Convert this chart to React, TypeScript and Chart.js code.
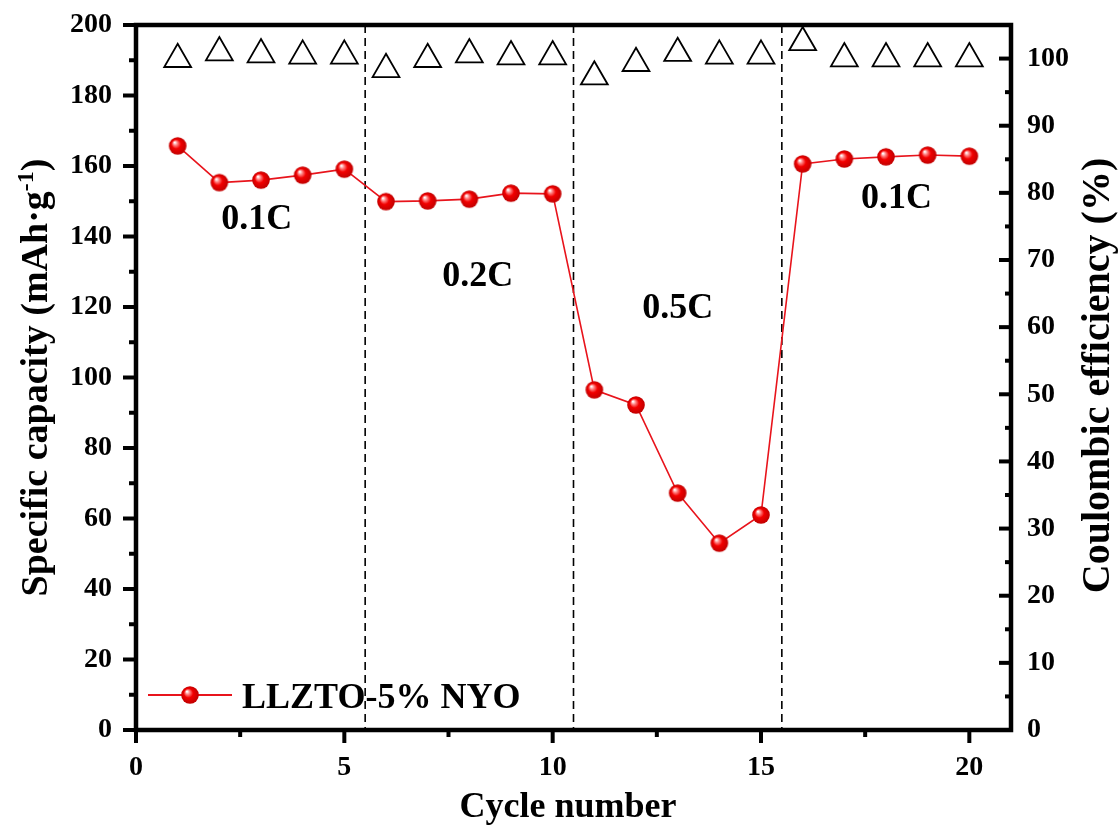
import React, { useEffect, useRef } from "react";
import { Chart, registerables } from "chart.js";

Chart.register(...registerables);

// ---- data ----
const cycles = [1, 2, 3, 4, 5, 6, 7, 8, 9, 10, 11, 12, 13, 14, 15, 16, 17, 18, 19, 20];
const capacity = [165.7, 155.3, 156.0, 157.4, 159.1, 149.9, 150.1, 150.6, 152.3, 152.1, 96.5, 92.2, 67.2, 53.0, 61.0, 160.6, 162.0, 162.6, 163.1, 162.8];
const efficiency = [99.9, 100.9, 100.6, 100.4, 100.4, 98.4, 99.9, 100.6, 100.3, 100.3, 97.3, 99.3, 100.8, 100.4, 100.4, 102.4, 100.0, 100.0, 100.0, 100.0];
const rateBoundaries = [5.5, 10.5, 15.5];
const rateLabels = ["0.1C", "0.2C", "0.5C", "0.1C"];
const rateLabelX = [2.9, 8.2, 13.0, 18.25];
const rateLabelY = [142, 126, 117, 148];
const seriesName = "LLZTO-5% NYO";
const xTitle = "Cycle number";
const yTitle = "Specific capacity (mAh·g";
const yTitleSup = "-1";
const y1Title = "Coulombic efficiency (%)";

const SERIF = '"Liberation Serif", "Times New Roman", serif';

function makeSphere(r: number): HTMLCanvasElement {
  const s = Math.ceil(r * 2 + 2);
  const c = document.createElement("canvas");
  c.width = s;
  c.height = s;
  const ctx = c.getContext("2d")!;
  const cx = s / 2;
  const cy = s / 2;
  const g = ctx.createRadialGradient(cx - r * 0.35, cy - r * 0.4, r * 0.05, cx, cy, r);
  g.addColorStop(0, "#ffffff");
  g.addColorStop(0.22, "#ff8080");
  g.addColorStop(0.5, "#f20000");
  g.addColorStop(1, "#c00000");
  ctx.fillStyle = g;
  ctx.beginPath();
  ctx.arc(cx, cy, r, 0, Math.PI * 2);
  ctx.fill();
  return c;
}

function fixBox(size: number, horizontal: boolean) {
  return (s: any) => {
    if (horizontal) s.height = size;
    else s.width = size;
    s.paddingTop = 0;
    s.paddingBottom = 0;
    s.paddingLeft = 0;
    s.paddingRight = 0;
  };
}

export default function App() {
  const ref = useRef<HTMLCanvasElement | null>(null);

  useEffect(() => {
    const canvas = ref.current;
    if (!canvas) return;
    const sphere = makeSphere(8.8);

    const framePlugin = {
      id: "frame",
      beforeDatasetsDraw(chart: any) {
        const { ctx, chartArea } = chart;
        const xs = chart.scales.x;
        ctx.save();
        ctx.strokeStyle = "#000";
        ctx.lineWidth = 1.6;
        ctx.setLineDash([8, 5]);
        rateBoundaries.forEach((b) => {
          const px = xs.getPixelForValue(b);
          ctx.beginPath();
          ctx.moveTo(px, chartArea.top);
          ctx.lineTo(px, chartArea.bottom);
          ctx.stroke();
        });
        ctx.restore();
      },
      afterDraw(chart: any) {
        const { ctx, chartArea } = chart;
        const { left, right, top, bottom } = chartArea;
        const xs = chart.scales.x;
        const ys = chart.scales.y;
        const y1s = chart.scales.y1;
        ctx.save();
        ctx.strokeStyle = "#000";
        ctx.lineWidth = 4;
        ctx.setLineDash([]);
        ctx.lineCap = "butt";
        for (let v = 0; v <= 200; v += 10) {
          const py = ys.getPixelForValue(v);
          const len = v % 20 === 0 ? 13 : 7;
          ctx.beginPath();
          ctx.moveTo(left - len, py);
          ctx.lineTo(left, py);
          ctx.stroke();
        }
        for (let v = 0; v <= 20; v += 2.5) {
          const px = xs.getPixelForValue(v);
          const len = v % 5 === 0 ? 13 : 7;
          ctx.beginPath();
          ctx.moveTo(px, bottom);
          ctx.lineTo(px, bottom + len);
          ctx.stroke();
        }
        for (let v = 0; v <= 100; v += 5) {
          const py = y1s.getPixelForValue(v);
          const len = v % 10 === 0 ? 12 : 6;
          ctx.beginPath();
          ctx.moveTo(right - len, py);
          ctx.lineTo(right, py);
          ctx.stroke();
        }
        ctx.lineWidth = 4.5;
        ctx.strokeRect(left, top, right - left, bottom - top);

        ctx.fillStyle = "#000";
        ctx.font = `bold 36px ${SERIF}`;
        ctx.textAlign = "center";
        ctx.textBaseline = "alphabetic";
        rateLabels.forEach((t, i) => {
          ctx.fillText(t, xs.getPixelForValue(rateLabelX[i]), ys.getPixelForValue(rateLabelY[i]));
        });

        ctx.strokeStyle = "#e8141c";
        ctx.lineWidth = 2;
        ctx.beginPath();
        ctx.moveTo(148, 695);
        ctx.lineTo(232, 695);
        ctx.stroke();
        ctx.drawImage(sphere, 190 - sphere.width / 2, 695 - sphere.height / 2);
        ctx.textAlign = "left";
        ctx.fillText(seriesName, 242, 708);

        ctx.textAlign = "center";
        ctx.font = `bold 36px ${SERIF}`;
        ctx.fillText(xTitle, 568, 817);

        ctx.save();
        ctx.translate(47, (top + bottom) / 2);
        ctx.rotate(-Math.PI / 2);
        ctx.textAlign = "left";
        const mainFont = `bold 38px ${SERIF}`;
        const supFont = `bold 24px ${SERIF}`;
        ctx.font = mainFont;
        const w1 = ctx.measureText(yTitle).width;
        const w3 = ctx.measureText(")").width;
        ctx.font = supFont;
        const w2 = ctx.measureText(yTitleSup).width;
        let x0 = -(w1 + w2 + w3) / 2;
        ctx.font = mainFont;
        ctx.fillText(yTitle, x0, 0);
        x0 += w1;
        ctx.font = supFont;
        ctx.fillText(yTitleSup, x0, -14);
        x0 += w2;
        ctx.font = mainFont;
        ctx.fillText(")", x0, 0);
        ctx.restore();

        ctx.save();
        ctx.translate(1109, (top + bottom) / 2 - 2);
        ctx.rotate(-Math.PI / 2);
        ctx.textAlign = "center";
        ctx.font = `bold 40px ${SERIF}`;
        ctx.fillText(y1Title, 0, 0);
        ctx.restore();

        ctx.restore();
      },
    };

    const tickFont = { family: SERIF, size: 28, weight: "bold" as const };

    const chart = new Chart(canvas, {
      type: "line",
      data: {
        labels: cycles,
        datasets: [
          {
            label: seriesName,
            data: cycles.map((c, i) => ({ x: c, y: capacity[i] })),
            yAxisID: "y",
            borderColor: "#e8141c",
            borderWidth: 1.6,
            pointStyle: sphere as any,
            pointRadius: 9,
            pointHoverRadius: 9,
            fill: false,
            tension: 0,
            order: 1,
          },
          {
            label: "Coulombic efficiency",
            data: cycles.map((c, i) => ({ x: c, y: efficiency[i] })),
            yAxisID: "y1",
            showLine: false,
            pointStyle: "triangle",
            pointRadius: 15.5,
            pointHoverRadius: 15.5,
            pointBorderColor: "#000",
            pointBackgroundColor: "rgba(0,0,0,0)",
            pointBorderWidth: 1.8,
            borderColor: "#000",
            backgroundColor: "rgba(0,0,0,0)",
            order: 2,
          },
        ],
      },
      options: {
        animation: false,
        responsive: false,
        devicePixelRatio: 1,
        layout: { padding: { top: 25, left: 0, right: 0, bottom: 0 } },
        plugins: {
          legend: { display: false },
          tooltip: { enabled: false },
        },
        scales: {
          x: {
            type: "linear",
            position: "bottom",
            min: 0,
            max: 21,
            afterFit: fixBox(95, true),
            grid: { display: false, drawTicks: false },
            border: { display: false },
            ticks: {
              stepSize: 5,
              includeBounds: false,
              padding: 21,
              color: "#000",
              font: tickFont,
              maxRotation: 0,
              autoSkip: false,
            },
          },
          y: {
            type: "linear",
            position: "left",
            min: 0,
            max: 200,
            afterFit: fixBox(136, false),
            grid: { display: false, drawTicks: false },
            border: { display: false },
            ticks: { stepSize: 20, padding: 24, color: "#000", font: tickFont },
          },
          y1: {
            type: "linear",
            position: "right",
            min: 0,
            max: 105,
            afterFit: fixBox(109, false),
            grid: { display: false, drawTicks: false },
            border: { display: false },
            ticks: { stepSize: 10, includeBounds: false, padding: 16, color: "#000", font: tickFont },
          },
        },
      },
      plugins: [framePlugin],
    });

    return () => chart.destroy();
  }, []);

  return (
    <div style={{ position: "fixed", left: 0, top: 0, width: 1120, height: 825, background: "#fff" }}>
      <canvas ref={ref} width={1120} height={825} style={{ display: "block" }} />
    </div>
  );
}
